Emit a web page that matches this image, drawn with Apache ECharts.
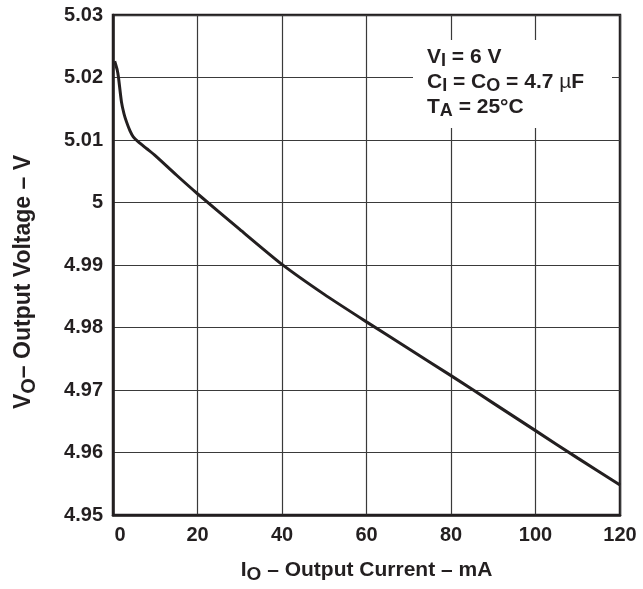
<!DOCTYPE html>
<html>
<head>
<meta charset="utf-8">
<script src="https://cdn.jsdelivr.net/npm/echarts@6/dist/echarts.min.js"></script>
<style>
html,body{margin:0;padding:0;background:#fff;}
#chart{width:643px;height:589px;}
</style>
</head>
<body>
<div id="chart"></div>
<script>
// Output current (mA)
const currentMA = [0.4, 1.0, 1.3, 2.0, 2.6, 3.2, 4.0, 4.8, 6, 8, 10, 15, 20, 30, 40, 50, 60, 70, 80, 90, 100, 110, 120];
// Output voltage (V)
const outputV = [5.0226, 5.0212, 5.0200, 5.0161, 5.0142, 5.0129, 5.0115, 5.0105, 5.0097, 5.0086, 5.0075, 5.0044, 5.0014, 4.9957, 4.9901, 4.9853, 4.9809, 4.9766, 4.9723, 4.9679, 4.9635, 4.9591, 4.9548];
const xTicks = {min: 0, max: 120, interval: 20};
const yTicks = {min: 4.95, max: 5.03, interval: 0.01};
const xTitle = ['I', 'O', ' – Output Current – mA'];
const yTitle = ['V', 'O', '– Output Voltage – V'];
const noteLines = ['{a|V}{s|I}{a| = 6 V}', '{a|C}{s|I}{a| = C}{s|O}{a| = 4.7 }{m|µ}{a|F}', '{a|T}{s|A}{a| = 25°C}'];

const FONT = 'Liberation Sans, Arial, Helvetica, sans-serif';
const INK = '#231f20';
const data = currentMA.map((c, i) => [c, outputV[i]]);

function richSet(main, sub, lh) {
  return {
    a: {fontSize: main, fontWeight: 'bold', fontFamily: FONT, color: INK, lineHeight: lh, verticalAlign: 'middle'},
    s: {fontSize: sub, fontWeight: 'bold', fontFamily: FONT, color: INK, lineHeight: lh, verticalAlign: 'bottom'},
    m: {fontSize: main, fontWeight: 'normal', fontFamily: FONT, color: INK, lineHeight: lh, verticalAlign: 'middle'}
  };
}
function subText(parts) {
  return parts.map((p, i) => (i % 2 === 0 ? '{a|' : '{s|') + p + '}').join('');
}

const chart = echarts.init(document.getElementById('chart'), null, {renderer: 'canvas'});
chart.setOption({
  animation: false,
  backgroundColor: '#fff',
  grid: {left: 113, right: 23, top: 15, bottom: 67, show: true, borderColor: INK, borderWidth: 2.5, backgroundColor: 'transparent'},
  xAxis: {
    type: 'value', min: xTicks.min, max: xTicks.max, interval: xTicks.interval,
    name: subText(xTitle), nameLocation: 'middle', nameGap: 41,
    nameTextStyle: {rich: richSet(21, 19, 28)},
    axisLine: {show: true, lineStyle: {color: INK, width: 2.5}},
    axisTick: {show: false},
    axisLabel: {fontSize: 20, fontWeight: 'bold', fontFamily: FONT, color: INK, margin: 10,
      formatter: v => v === 0 ? '{z|0}' : String(v),
      rich: {z: {fontSize: 20, fontWeight: 'bold', fontFamily: FONT, color: INK, padding: [0, 0, 0, 14]}}},
    splitLine: {show: true, lineStyle: {color: '#3a3a3a', width: 1.2}}
  },
  yAxis: {
    type: 'value', min: yTicks.min, max: yTicks.max, interval: yTicks.interval,
    name: subText(yTitle), nameLocation: 'middle', nameGap: 74,
    nameTextStyle: {rich: richSet(23, 20, 30), padding: [0, 34, 0, 0]},
    axisLine: {show: true, lineStyle: {color: INK, width: 2.5}},
    axisTick: {show: false},
    axisLabel: {fontSize: 20, fontWeight: 'bold', fontFamily: FONT, color: INK, margin: 10,
      formatter: v => String(parseFloat(v.toFixed(2)))},
    splitLine: {show: true, lineStyle: {color: '#3a3a3a', width: 1.2}}
  },
  graphic: [
    {type: 'rect', shape: {x: 413, y: 40, width: 199, height: 88}, style: {fill: '#fff'}, z: 50},
    {type: 'text', x: 427, y: 45, z: 51, style: {text: noteLines.join('\n'), rich: richSet(21, 18, 25), fill: INK}}
  ],
  series: [{
    type: 'line', data: data, smooth: 0.2, showSymbol: false, symbol: 'none',
    lineStyle: {color: INK, width: 3}, z: 10
  }]
});
</script>
</body>
</html>
